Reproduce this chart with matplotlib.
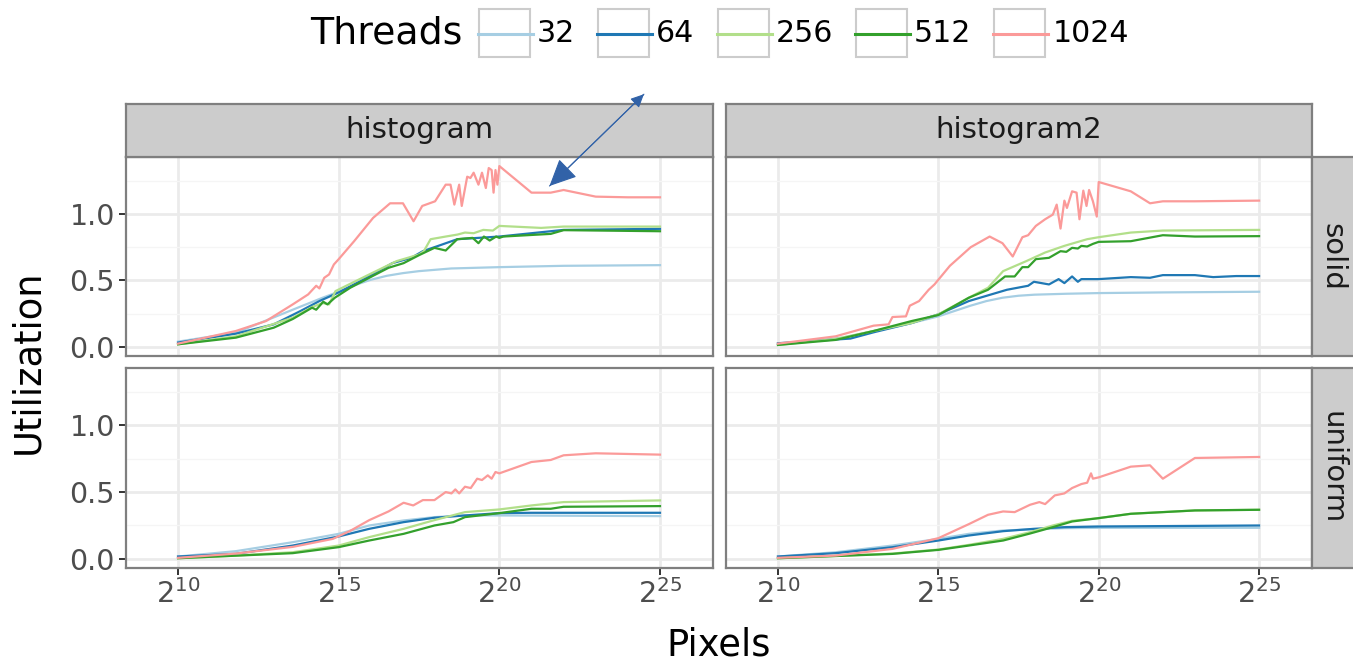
import numpy as np
import matplotlib
matplotlib.use('Agg')
import matplotlib.pyplot as plt
from matplotlib.patches import Rectangle, FancyArrowPatch
from matplotlib.lines import Line2D
from matplotlib.ticker import NullLocator

threads = ['32', '64', '256', '512', '1024']
colors = ['#a6cee3', '#1f78b4', '#b2df8a', '#33a02c', '#fb9a99']
algorithms = ['histogram', 'histogram2']
images = ['solid', 'uniform']
x_ticks_exp = [10, 15, 20, 25]
y_ticks = [0.0, 0.5, 1.0]

# x values are log2(pixels)
# --- histogram / solid ---
hs_32_x = [10, 11.8, 13.57, 14.5, 15.0, 15.5, 16.0, 16.5, 17.0, 17.5, 18.5, 20.0, 22.0, 25.0]
hs_32_y = [0.04, 0.107, 0.28, 0.37, 0.415, 0.465, 0.505, 0.535, 0.555, 0.57, 0.59, 0.60, 0.61, 0.615]
hs_64_x = [10, 11.8, 12.98, 13.81, 14.4, 15.0, 15.95, 16.67, 17.26, 17.62, 18.1, 18.69, 20.0, 22.0, 25.0]
hs_64_y = [0.033, 0.10, 0.17, 0.27, 0.345, 0.41, 0.53, 0.63, 0.67, 0.72, 0.76, 0.81, 0.83, 0.88, 0.888]
hs_256_x = [10, 11.8, 13.57, 14.17, 14.5, 14.7, 14.9, 15.95, 16.8, 17.5, 17.65, 17.86, 18.33, 18.7,
            18.93, 19.2, 19.5, 19.8, 20.0, 21.3, 22.0, 25.0]
hs_256_y = [0.02, 0.08, 0.22, 0.30, 0.33, 0.32, 0.42, 0.545, 0.645, 0.695, 0.72, 0.81, 0.83, 0.845,
            0.86, 0.855, 0.88, 0.875, 0.91, 0.895, 0.905, 0.905]
hs_512_x = [10, 11.8, 12.98, 13.57, 14.17, 14.3, 14.52, 14.65, 14.88, 15.36, 15.95, 16.55, 17.02,
            17.5, 17.98, 18.33, 18.69, 19.17, 19.35, 19.52, 19.7, 19.9, 20.0, 20.12, 21.6, 22.0, 25.0]
hs_512_y = [0.02, 0.07, 0.145, 0.21, 0.295, 0.28, 0.34, 0.32, 0.37, 0.445, 0.52, 0.595, 0.63,
            0.69, 0.745, 0.725, 0.81, 0.82, 0.78, 0.83, 0.80, 0.83, 0.82, 0.83, 0.85, 0.878, 0.87]
hs_1024_x = [10, 11.8, 12.74, 13.57, 14.05, 14.3, 14.4, 14.55, 14.7, 14.85, 15.0, 15.48, 16.07, 16.6,
             17.0, 17.33, 17.6, 18.0, 18.33, 18.48, 18.6, 18.75, 18.83, 19.0, 19.1, 19.2, 19.35,
             19.46, 19.58, 19.67, 19.76, 19.82, 19.88, 19.94, 20.0, 21.0, 21.6, 22.0, 23.0, 24.0, 25.0]
hs_1024_y = [0.025, 0.12, 0.195, 0.32, 0.395, 0.46, 0.44, 0.52, 0.545, 0.62, 0.66, 0.795, 0.97, 1.08,
             1.08, 0.945, 1.06, 1.095, 1.22, 1.22, 1.07, 1.22, 1.06, 1.28, 1.27, 1.31, 1.22,
             1.31, 1.195, 1.345, 1.33, 1.16, 1.33, 1.22, 1.36, 1.16, 1.16, 1.18, 1.13, 1.125, 1.125]

# --- histogram2 / solid ---
h2s_32_x = [10, 12, 13, 14, 15, 15.5, 16, 16.5, 17, 17.5, 18, 19, 20, 22, 25]
h2s_32_y = [0.02, 0.07, 0.12, 0.17, 0.23, 0.27, 0.31, 0.345, 0.37, 0.385, 0.393, 0.40, 0.405, 0.41, 0.415]
h2s_64_x = [10, 12.26, 12.98, 14.17, 15.0, 15.95, 17.14, 17.8, 17.98, 18.45, 18.75, 18.93, 19.17,
            19.35, 19.46, 20.0, 21.0, 21.6, 22.0, 23.0, 23.57, 24.29, 25.0]
h2s_64_y = [0.028, 0.063, 0.11, 0.18, 0.245, 0.345, 0.43, 0.46, 0.49, 0.47, 0.51, 0.48, 0.53,
            0.49, 0.51, 0.51, 0.525, 0.52, 0.54, 0.54, 0.525, 0.533, 0.533]
h2s_256_x = [10, 11.8, 12.98, 14.17, 15.0, 15.95, 16.55, 17.02, 17.74, 18.33, 18.93, 19.64, 20.0,
             21.0, 22.0, 25.0]
h2s_256_y = [0.015, 0.06, 0.12, 0.18, 0.245, 0.37, 0.445, 0.57, 0.645, 0.71, 0.76, 0.81, 0.825,
             0.86, 0.875, 0.88]
h2s_512_x = [10, 11.8, 12.98, 14.17, 15.0, 15.95, 16.55, 17.08, 17.38, 17.62, 17.8, 18.04, 18.45,
             18.63, 18.81, 18.99, 19.17, 19.35, 19.46, 19.64, 19.82, 20.0, 21.0, 22.0, 23.0, 25.0]
h2s_512_y = [0.015, 0.053, 0.12, 0.195, 0.24, 0.37, 0.43, 0.53, 0.53, 0.60, 0.60, 0.66, 0.67,
             0.695, 0.72, 0.715, 0.745, 0.74, 0.76, 0.755, 0.775, 0.79, 0.795, 0.84, 0.83, 0.833]
h2s_1024_x = [10, 11.8, 12.98, 13.45, 13.57, 13.99, 14.11, 14.4, 14.7, 14.88, 15.36, 16.01, 16.6,
              17.0, 17.32, 17.62, 17.8, 18.04, 18.33, 18.57, 18.69, 18.81, 18.93, 19.01, 19.17,
              19.31, 19.4, 19.52, 19.62, 19.7, 19.82, 19.94, 20.0, 21.0, 21.6, 22.0, 23.0, 25.0]
h2s_1024_y = [0.025, 0.08, 0.16, 0.17, 0.225, 0.23, 0.31, 0.345, 0.43, 0.47, 0.61, 0.75, 0.83,
              0.78, 0.68, 0.825, 0.84, 0.91, 0.96, 0.995, 1.07, 0.89, 1.1, 1.045, 1.17,
              1.16, 0.96, 1.175, 1.06, 1.18, 1.095, 0.98, 1.24, 1.17, 1.08, 1.095, 1.095, 1.10]

# --- histogram / uniform ---
hu_32_x = [10, 11.8, 13.57, 15.0, 15.95, 17.02, 17.98, 18.93, 20.0, 25.0]
hu_32_y = [0.018, 0.058, 0.125, 0.1875, 0.25, 0.2875, 0.3125, 0.325, 0.325, 0.32]
hu_64_x = [10, 11.8, 13.57, 15.0, 15.95, 17.02, 17.98, 18.93, 20.0, 21.0, 25.0]
hu_64_y = [0.018, 0.038, 0.10, 0.168, 0.225, 0.275, 0.308, 0.325, 0.3425, 0.345, 0.345]
hu_256_x = [10, 11.8, 13.57, 15.0, 15.95, 17.02, 17.98, 18.93, 20.0, 21.0, 22.0, 25.0]
hu_256_y = [0.005, 0.025, 0.05, 0.10, 0.163, 0.225, 0.29, 0.35, 0.37, 0.40, 0.425, 0.4375]
hu_512_x = [10, 13.57, 15.0, 15.95, 17.02, 17.98, 18.57, 18.93, 20.0, 21.0, 21.6, 22.0, 25.0]
hu_512_y = [0.005, 0.043, 0.088, 0.1375, 0.1875, 0.25, 0.275, 0.3125, 0.3425, 0.375, 0.375, 0.39, 0.395]
hu_1024_x = [10, 11.8, 13.57, 14.82, 15.36, 15.95, 16.55, 17.02, 17.32, 17.62, 17.98, 18.33, 18.51,
             18.63, 18.75, 18.93, 19.11, 19.31, 19.46, 19.64, 19.76, 19.88, 20.0, 21.0, 21.6, 22.0,
             23.0, 25.0]
hu_1024_y = [0.008, 0.04, 0.09, 0.15, 0.21, 0.29, 0.355, 0.42, 0.40, 0.44, 0.44, 0.50, 0.49,
             0.52, 0.49, 0.54, 0.53, 0.60, 0.59, 0.625, 0.60, 0.65, 0.64, 0.725, 0.74, 0.775,
             0.79, 0.78]

# --- histogram2 / uniform ---
h2u_32_x = [10, 11.8, 13.57, 15.0, 15.95, 17.02, 18.93, 20.0, 25.0]
h2u_32_y = [0.018, 0.05, 0.10, 0.15, 0.1875, 0.2125, 0.23, 0.2325, 0.2325]
h2u_64_x = [10, 11.8, 13.57, 15.0, 15.95, 17.02, 17.98, 18.93, 20.0, 25.0]
h2u_64_y = [0.018, 0.043, 0.0875, 0.1375, 0.175, 0.2075, 0.225, 0.2375, 0.2425, 0.25]
h2u_256_x = [10, 13.57, 15.0, 15.95, 17.02, 17.86, 18.57, 19.17, 20.0, 21.0, 22.0, 23.0, 25.0]
h2u_256_y = [0.005, 0.04, 0.07, 0.105, 0.15, 0.20, 0.25, 0.285, 0.305, 0.3375, 0.35, 0.3625, 0.3675]
h2u_512_x = [10, 13.57, 15.0, 15.95, 17.02, 17.86, 18.57, 19.17, 20.0, 21.0, 22.0, 23.0, 25.0]
h2u_512_y = [0.005, 0.0375, 0.0675, 0.1, 0.1375, 0.19, 0.2375, 0.28, 0.305, 0.3375, 0.35, 0.3625, 0.3675]
h2u_1024_x = [10, 11.8, 13.57, 15.0, 15.95, 16.55, 17.02, 17.38, 17.86, 18.15, 18.33, 18.63, 18.93,
              19.17, 19.46, 19.64, 19.76, 19.82, 20.0, 21.0, 21.6, 22.0, 23.0, 25.0]
h2u_1024_y = [0.008, 0.025, 0.075, 0.155, 0.26, 0.33, 0.355, 0.35, 0.405, 0.425, 0.41, 0.475, 0.49,
              0.53, 0.56, 0.57, 0.64, 0.60, 0.61, 0.69, 0.70, 0.60, 0.755, 0.7625]

panels = {
    ('histogram', 'solid'): [(hs_32_x, hs_32_y), (hs_64_x, hs_64_y), (hs_256_x, hs_256_y),
                             (hs_512_x, hs_512_y), (hs_1024_x, hs_1024_y)],
    ('histogram2', 'solid'): [(h2s_32_x, h2s_32_y), (h2s_64_x, h2s_64_y), (h2s_256_x, h2s_256_y),
                              (h2s_512_x, h2s_512_y), (h2s_1024_x, h2s_1024_y)],
    ('histogram', 'uniform'): [(hu_32_x, hu_32_y), (hu_64_x, hu_64_y), (hu_256_x, hu_256_y),
                               (hu_512_x, hu_512_y), (hu_1024_x, hu_1024_y)],
    ('histogram2', 'uniform'): [(h2u_32_x, h2u_32_y), (h2u_64_x, h2u_64_y), (h2u_256_x, h2u_256_y),
                                (h2u_512_x, h2u_512_y), (h2u_1024_x, h2u_1024_y)],
}

# annotation arrow (log2 x, y) on histogram/solid panel
arrow_tip = (21.56, 1.21)
arrow_tail = (24.5, 1.90)

W, H = 1353, 661
fig = plt.figure(figsize=(W / 100, H / 100), dpi=100)


def box(x0, y0, x1, y1):
    # pixel box, origin top-left -> figure fraction rect
    return [x0 / W, 1 - y1 / H, (x1 - x0) / W, (y1 - y0) / H]


col_px = [(126, 713), (726, 1312)]
row_px = [(157, 356), (368, 568)]
border = '#7f7f7f'
strip_fill = '#cccccc'

axes = {}
for r, img in enumerate(images):
    for c, alg in enumerate(algorithms):
        ax = fig.add_axes(box(col_px[c][0], row_px[r][0], col_px[c][1], row_px[r][1]))
        axes[(r, c)] = ax
        for col, (ex, ey) in zip(colors, panels[(alg, img)]):
            ax.plot(2.0 ** np.array(ex), ey, color=col, lw=1.6)
        ax.set_xscale('log', base=2)
        ax.set_xlim(2 ** 8.38, 2 ** 26.65)
        ax.set_ylim(-0.068, 1.428)
        ax.set_xticks([2.0 ** e for e in x_ticks_exp])
        ax.set_xticklabels(['$2^{%d}$' % e for e in x_ticks_exp])
        ax.xaxis.set_minor_locator(NullLocator())
        ax.set_yticks(y_ticks)
        ax.set_yticklabels(['%.1f' % v for v in y_ticks])
        ax.set_yticks([0.25, 0.75, 1.25], minor=True)
        ax.grid(which='major', color='#ebebeb', lw=2.0)
        ax.grid(which='minor', axis='y', color='#f5f5f5', lw=1.0)
        ax.set_axisbelow(True)
        for s in ax.spines.values():
            s.set_color(border)
            s.set_linewidth(1.6)
        ax.tick_params(which='major', direction='out', length=5, width=1.4, color='#333333',
                       labelsize=20.5, labelcolor='#4d4d4d', pad=3)
        ax.tick_params(which='minor', length=0)
        if c == 1:
            ax.tick_params(axis='y', left=False, labelleft=False)
        if r == 0:
            ax.tick_params(axis='x', bottom=False, labelbottom=False)

        # strips
        if r == 0:
            sax = fig.add_axes(box(col_px[c][0], 104, col_px[c][1], 157))
            sax.set_facecolor(strip_fill)
            sax.set_xticks([]); sax.set_yticks([])
            for s in sax.spines.values():
                s.set_color(border); s.set_linewidth(1.6)
            sax.text(0.5, 0.5, alg, ha='center', va='center', fontsize=21, color='#1a1a1a',
                     transform=sax.transAxes)
        if c == 1:
            sax = fig.add_axes(box(1312, row_px[r][0], 1366, row_px[r][1]))
            sax.set_facecolor(strip_fill)
            sax.set_xticks([]); sax.set_yticks([])
            for s in sax.spines.values():
                s.set_color(border); s.set_linewidth(1.6)
            sax.text(0.38, 0.5, img, ha='center', va='center', fontsize=21, color='#1a1a1a',
                     rotation=-90, transform=sax.transAxes)

# double-headed arrow annotation
ax0 = axes[(0, 0)]
tip = (2 ** arrow_tip[0], arrow_tip[1])
tail = (2 ** arrow_tail[0], arrow_tail[1])
arrow_col = '#3162a8'
fig.add_artist(FancyArrowPatch(tail, tip, transform=ax0.transData,
                               arrowstyle='-|>,head_length=1.7,head_width=0.8', mutation_scale=10,
                               color=arrow_col, lw=0.8, shrinkA=0, shrinkB=0, zorder=10))
fig.add_artist(FancyArrowPatch(tip, tail, transform=ax0.transData,
                               arrowstyle='-|>,head_length=0.8,head_width=0.38', mutation_scale=10,
                               color=arrow_col, lw=0.8, shrinkA=0, shrinkB=0, zorder=10))

# axis titles
fig.text(28 / W, 1 - 362 / H, 'Utilization', rotation=90, ha='center', va='center', fontsize=26.5)
fig.text(719 / W, 1 - 645 / H, 'Pixels', ha='center', va='center', fontsize=26.5)

# legend (ggplot style, keys in grey boxes)
renderer = fig.canvas.get_renderer()
fig.text(310 / W, 1 - 33 / H, 'Threads', ha='left', va='center', fontsize=27.3)
kx = 479
for lab, col in zip(threads, colors):
    fig.add_artist(Rectangle((kx / W, 1 - 57 / H), 51 / W, 48 / H, transform=fig.transFigure,
                             facecolor='white', edgecolor='#cccccc', lw=1.5))
    fig.add_artist(Line2D([(kx - 1) / W, (kx + 54) / W], [1 - 34 / H, 1 - 34 / H],
                          transform=fig.transFigure, color=col, lw=2.2))
    t = fig.text((kx + 58) / W, 1 - 33 / H, lab, ha='left', va='center', fontsize=21.6)
    bb = t.get_window_extent(renderer)
    kx = bb.x1 + 23

fig.savefig('out.png', dpi=100, facecolor='white')
